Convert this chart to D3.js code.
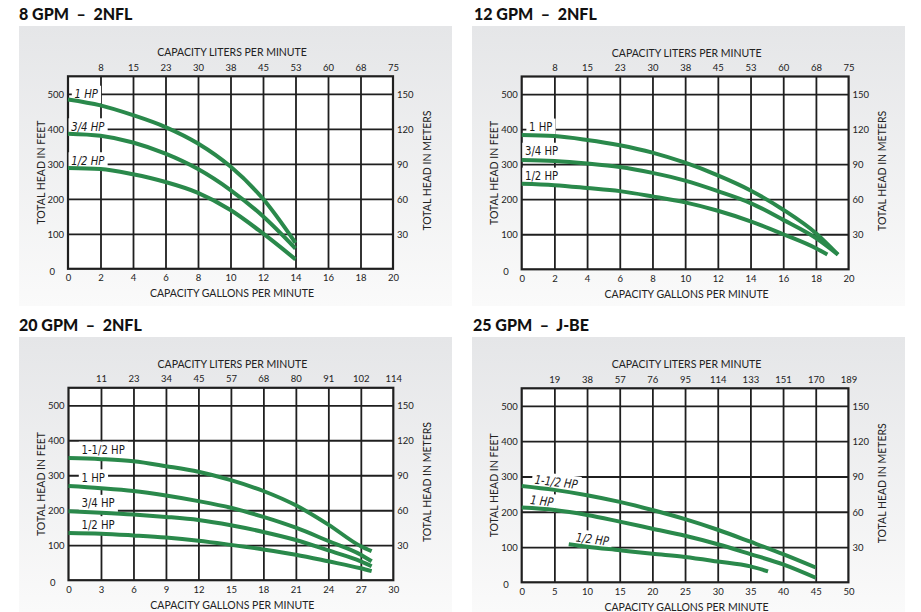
<!DOCTYPE html>
<html><head><meta charset="utf-8">
<script src="https://cdn.jsdelivr.net/npm/d3@7"></script>
<style>body{margin:0;background:#fff} svg{display:block}</style>
</head><body><svg id="c" width="921" height="612"></svg>
<script>
// ---------------- DATA ----------------
const titles = ["8 GPM  –  2NFL", "12 GPM  –  2NFL", "20 GPM  –  2NFL", "25 GPM  –  J-BE"];
const headTicks = [0, 100, 200, 300, 400, 500];
const meterLabels = ["30", "60", "90", "120", "150"];

const gpmTicks8 = [0, 2, 4, 6, 8, 10, 12, 14, 16, 18, 20];
const lpmLabels8 = ["8", "15", "23", "30", "38", "45", "53", "60", "68", "75"];
const gpmTicks12 = [0, 2, 4, 6, 8, 10, 12, 14, 16, 18, 20];
const lpmLabels12 = ["8", "15", "23", "30", "38", "45", "53", "60", "68", "75"];
const gpmTicks20 = [0, 3, 6, 9, 12, 15, 18, 21, 24, 27, 30];
const lpmLabels20 = ["11", "23", "34", "45", "57", "68", "80", "91", "102", "114"];
const gpmTicks25 = [0, 5, 10, 15, 20, 25, 30, 35, 40, 45, 50];
const lpmLabels25 = ["19", "38", "57", "76", "95", "114", "133", "151", "170", "189"];

// 8 GPM - 2NFL
const p8_gpm = [0, 2, 4, 6, 8, 10, 12, 14];
const p8_1hp = [484, 467, 439, 405, 358, 292, 200, 74];
const p8_34hp = [386, 380, 361, 329, 285, 225, 150, 58];
const p8_12hp = [288, 285, 270, 248, 217, 168, 101, 27];
// 12 GPM - 2NFL
const p12_gpm = [0, 2, 4, 6, 8, 10, 12, 14, 16, 18, 19.35];
const p12_1hp = [383, 380, 369, 354, 333, 304, 268, 225, 170, 103, 42];
const p12_34hp = [312, 309, 302, 292, 275, 253, 223, 189, 141, 89, 42];
const p12_12gpm = [0, 2, 4, 6, 8, 10, 12, 14, 16, 18, 18.7];
const p12_12hp = [244, 240, 232, 223, 208, 191, 167, 137, 100, 60, 42];
// 20 GPM - 2NFL
const p20_gpm = [0, 3, 6, 9, 12, 15, 18, 21, 24, 27, 28];
const p20_112hp = [349, 346, 340, 326, 310, 286, 255, 214, 159, 97, 83];
const p20_1hp = [269, 263, 255, 242, 226, 207, 181, 150, 112, 73, 54];
const p20_34hp = [197, 193, 188, 181, 172, 157, 138, 115, 85, 54, 40];
const p20_12hp = [135, 133, 128, 122, 113, 101, 88, 73, 54, 34, 26];
// 25 GPM - J-BE
const p25_gpm = [0, 5, 10, 15, 20, 25, 30, 35, 40, 45];
const p25_112hp = [273, 262, 247, 228, 205, 179, 149, 115, 80, 42];
const p25_1hp = [212, 205, 191, 172, 152, 132, 108, 80, 51, 13];
const p25_12gpm = [7.2, 10, 15, 20, 25, 30, 35, 37.7];
const p25_12hp = [108, 101, 91, 81, 72, 59, 45, 31];

// ---------------- LAYOUT ----------------
const panels = [
  { title: titles[0], tx: 19, ty: 20, bg: [19, 26, 433, 280], L: 68, R: 393, T: 76.3, B: 268.8,
    xt: gpmTicks8, lt: lpmLabels8, italic: true, rot: 0,
    series: [
      { name: "1 HP", x: p8_gpm, y: p8_1hp, lx: 0.4, ly: 500 },
      { name: "3/4 HP", x: p8_gpm, y: p8_34hp, lx: 0.2, ly: 407 },
      { name: "1/2 HP", x: p8_gpm, y: p8_12hp, lx: 0.2, ly: 310 } ] },
  { title: titles[1], tx: 474, ty: 20, bg: [472, 26, 433, 280], L: 521.7, R: 848.6, T: 76.5, B: 269.3,
    xt: gpmTicks12, lt: lpmLabels12, italic: false, rot: 0,
    series: [
      { name: "1 HP", x: p12_gpm, y: p12_1hp, lx: 0.45, ly: 407 },
      { name: "3/4 HP", x: p12_gpm, y: p12_34hp, lx: 0.2, ly: 338 },
      { name: "1/2 HP", x: p12_12gpm, y: p12_12hp, lx: 0.2, ly: 267 } ] },
  { title: titles[2], tx: 19, ty: 331, bg: [19, 337, 433, 275], L: 68.5, R: 393.3, T: 387.8, B: 580.2,
    xt: gpmTicks20, lt: lpmLabels20, italic: false, rot: 0,
    series: [
      { name: "1-1/2 HP", x: p20_gpm, y: p20_112hp, lx: 1.2, ly: 373 },
      { name: "1 HP", x: p20_gpm, y: p20_1hp, lx: 1.2, ly: 294 },
      { name: "3/4 HP", x: p20_gpm, y: p20_34hp, lx: 1.2, ly: 221 },
      { name: "1/2 HP", x: p20_gpm, y: p20_12hp, lx: 1.2, ly: 160 } ] },
  { title: titles[3], tx: 473, ty: 331, bg: [472, 337, 433, 275], L: 521.7, R: 848.4, T: 388.3, B: 582.3,
    xt: gpmTicks25, lt: lpmLabels25, italic: true, rot: 7,
    series: [
      { name: "1-1/2 HP", x: p25_gpm, y: p25_112hp, lx: 2.0, ly: 292 },
      { name: "1 HP", x: p25_gpm, y: p25_1hp, lx: 1.3, ly: 235 },
      { name: "1/2 HP", x: p25_12gpm, y: p25_12hp, lx: 8.3, ly: 128 } ] }
];

const GREEN = "#2a894b";
const INK = "#1f1f1f";
const FONT = "Lato, 'Open Sans', sans-serif";
const LABFONT = "'Liberation Sans Narrow', 'DejaVu Sans Condensed', sans-serif";

const svg = d3.select("#c");
const defs = svg.append("defs");
const grad = defs.append("linearGradient").attr("id", "bgGrad").attr("x1", 0).attr("y1", 0).attr("x2", 0).attr("y2", 1);
grad.append("stop").attr("offset", "0%").attr("stop-color", "#e5e6e8");
grad.append("stop").attr("offset", "100%").attr("stop-color", "#fafafa");

panels.forEach(p => {
  const g = svg.append("g");
  g.append("rect").attr("x", p.bg[0]).attr("y", p.bg[1]).attr("width", p.bg[2]).attr("height", p.bg[3])
    .attr("fill", "url(#bgGrad)");
  g.append("text").attr("x", p.tx).attr("y", p.ty).text(p.title)
    .style("white-space", "pre").attr("font-family", FONT).attr("font-weight", 900)
    .attr("font-size", "16px").attr("fill", "#111");

  const xmax = p.xt[p.xt.length - 1];
  const x = d3.scaleLinear().domain([0, xmax]).range([p.L, p.R]);
  const y = d3.scaleLinear().domain([0, 550]).range([p.B, p.T]);
  const W = p.R - p.L, H = p.B - p.T;

  g.append("rect").attr("x", p.L).attr("y", p.T).attr("width", W).attr("height", H).attr("fill", "#fff");

  const gx = g.append("g").attr("transform", `translate(0,${p.B})`)
    .call(d3.axisBottom(x).tickValues(p.xt.slice(1, -1)).tickSize(-H).tickFormat(""));
  gx.select(".domain").remove();
  gx.selectAll("line").attr("stroke", INK).attr("stroke-width", 1.8);
  const gy = g.append("g").attr("transform", `translate(${p.L},0)`)
    .call(d3.axisLeft(y).tickValues(headTicks.slice(1)).tickSize(-W).tickFormat(""));
  gy.select(".domain").remove();
  gy.selectAll("line").attr("stroke", INK).attr("stroke-width", 1.8);

  g.append("rect").attr("x", p.L).attr("y", p.T).attr("width", W).attr("height", H)
    .attr("fill", "none").attr("stroke", INK).attr("stroke-width", 2.2);

  const styleTicks = sel => {
    sel.select(".domain").remove();
    sel.selectAll("line").remove();
    sel.selectAll("text").attr("font-family", FONT).attr("font-size", "9.5px").attr("fill", "#222");
  };
  const bx = g.append("g").attr("transform", `translate(0,${p.B})`)
    .call(d3.axisBottom(x).tickValues(p.xt).tickSize(0).tickFormat(d3.format("d")));
  styleTicks(bx);
  bx.selectAll("text").attr("y", 12.5).attr("dy", 0);

  const tx = g.append("g").attr("transform", `translate(0,${p.T})`)
    .call(d3.axisTop(x).tickValues(p.xt.slice(1)).tickSize(0).tickFormat((d, i) => p.lt[i]));
  styleTicks(tx);
  tx.selectAll("text").attr("y", -5.5).attr("dy", 0);

  const ly = g.append("g").attr("transform", `translate(${p.L},0)`)
    .call(d3.axisLeft(y).tickValues(headTicks).tickSize(0).tickFormat(d3.format("d")));
  styleTicks(ly);
  ly.selectAll("text").attr("x", -4).attr("dy", "0.35em");
  ly.selectAll("text").filter(d => d === 0).attr("x", -13).attr("dy", "0.55em");

  const ry = g.append("g").attr("transform", `translate(${p.R},0)`)
    .call(d3.axisRight(y).tickValues(headTicks.slice(1)).tickSize(0).tickFormat((d, i) => meterLabels[i]));
  styleTicks(ry);
  ry.selectAll("text").attr("x", 4).attr("dy", "0.35em");

  const cx = (p.L + p.R) / 2 + 1.5, cy = (p.T + p.B) / 2;
  const tAttr = s => s.attr("font-family", FONT).attr("font-size", "10.5px").attr("fill", "#222").attr("text-anchor", "middle");
  g.append("text").attr("x", cx).attr("y", p.T - 20).text("CAPACITY LITERS PER MINUTE").call(tAttr);
  g.append("text").attr("x", cx).attr("y", p.B + 28.5).text("CAPACITY GALLONS PER MINUTE").call(tAttr);
  g.append("text").attr("transform", `translate(${p.L - 27},${cy}) rotate(-90)`).attr("dy", "0.35em")
    .text("TOTAL HEAD IN FEET").call(tAttr);
  g.append("text").attr("transform", `translate(${p.R + 34},${cy - 2}) rotate(-90)`).attr("dy", "0.35em")
    .text("TOTAL HEAD IN METERS").call(tAttr);

  // curve labels with white backing
  p.series.forEach(s => {
    const lg = g.append("g").attr("transform", `translate(${x(s.lx)},${y(s.ly)}) rotate(${p.rot}) scale(0.9,1)`);
    const bgR = lg.append("rect").attr("fill", "#fff");
    const t = lg.append("text").attr("x", 0).attr("y", 0).attr("dy", "0.36em").text(s.name)
      .attr("font-family", LABFONT).attr("font-size", "12.5px").attr("fill", "#1a1a1a")
      .attr("font-style", p.italic ? "italic" : "normal");
    const bb = t.node().getBBox();
    bgR.attr("x", bb.x - 3).attr("y", bb.y - 1).attr("width", bb.width + 6).attr("height", bb.height + 3);
  });

  const line = d3.line().x(d => x(d[0])).y(d => y(d[1])).curve(d3.curveMonotoneX);
  p.series.forEach(s => {
    g.append("path").datum(s.x.map((v, i) => [v, s.y[i]]))
      .attr("d", line).attr("fill", "none").attr("stroke", GREEN).attr("stroke-width", 4);
  });
});
</script></body></html>
